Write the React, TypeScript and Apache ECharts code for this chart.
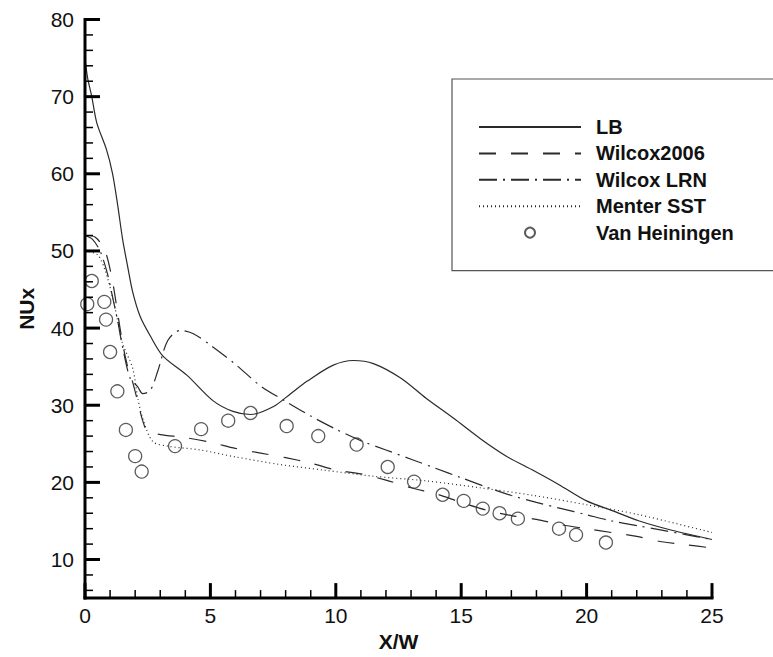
import React, { useEffect, useRef } from "react";
import * as echarts from "echarts";

const lbX = [0, 0.1, 0.27, 0.47, 0.86, 1.1, 1.3, 1.5, 1.7, 1.9, 2.2, 2.6, 3.1, 4.06, 5.1, 5.9, 6.6, 7.5, 8.2, 8.85, 9.9, 10.7, 11.5, 12.6, 13.6, 14.7, 15.75, 16.8, 17.9, 18.9, 20, 21.05, 22.1, 23.4, 25];
const lbY = [75, 72.5, 70, 66.6, 63.1, 60, 56, 51.5, 48, 44.7, 41.5, 39, 36.4, 33.9, 30.6, 29.2, 28.8, 29.8, 31.5, 33.1, 35.2, 35.8, 35.4, 33.5, 30.9, 28.3, 25.7, 23.4, 21.5, 19.7, 17.6, 16.3, 15, 13.8, 12.6];

const w2006X = [0, 0.4, 0.8, 1.1, 1.3, 1.5, 1.7, 1.9, 2.1, 2.3, 2.5, 3, 4, 5, 6, 7, 8, 9, 10, 11, 12, 13, 14, 15, 16, 17, 18, 19, 20, 21, 22, 23, 24, 25];
const w2006Y = [52, 51.8, 50, 46, 42, 38, 35, 33, 30.5, 28, 26.6, 26.2, 25.8, 25.2, 24.4, 23.8, 23.2, 22.5, 21.6, 21.1, 20.3, 19.3, 18.5, 17.4, 16.4, 15.7, 15.2, 14.5, 14.0, 13.5, 13.0, 12.3, 11.9, 11.5];

const lrnX = [0, 0.3, 0.6, 0.9, 1.1, 1.3, 1.5, 1.8, 2.1, 2.3, 2.6, 2.9, 3.3, 3.8, 4.3, 5, 6, 7, 8, 9, 10, 11, 12, 13, 14, 15, 16, 17, 18, 19, 20, 21, 22, 23, 24, 25];
const lrnY = [52, 51.5, 50, 47, 44, 41, 37.5, 33.5, 32.4, 31.5, 31.9, 34.4, 38.4, 39.7, 39.3, 37.8, 35.3, 32.5, 30.5, 28.6, 26.9, 25.4, 24.2, 23, 21.8, 20.6, 19.4, 18.3, 17.4, 16.6, 15.8, 15.0, 14.4, 13.8, 13.2, 12.6];

const sstX = [0, 0.5, 0.8, 1.1, 1.3, 1.5, 1.9, 2.1, 2.3, 2.7, 3.3, 4.6, 6, 7.8, 9.5, 11.5, 13.6, 15.75, 17.9, 20, 22.1, 25];
const sstY = [50, 49.5, 47.5, 44, 41, 38, 34.8, 31, 28.3, 25.3, 24.7, 24.2, 23.3, 22.3, 21.6, 20.8, 20.2, 19.3, 18.3, 17.1, 15.8, 13.5];

const expX = [0.09, 0.27, 0.77, 0.84, 1.0, 1.29, 1.63, 2.0, 2.26, 3.59, 4.63, 5.71, 6.6, 8.04, 9.3, 10.83, 12.07, 13.12, 14.26, 15.1, 15.86, 16.53, 17.26, 18.9, 19.58, 20.77];
const expY = [43.1, 46.1, 43.4, 41.1, 36.9, 31.8, 26.8, 23.4, 21.4, 24.7, 26.9, 28.0, 29.0, 27.3, 26.0, 24.9, 22.0, 20.1, 18.4, 17.6, 16.6, 16.0, 15.3, 14.0, 13.2, 12.2];

const seriesNames = ["LB", "Wilcox2006", "Wilcox LRN", "Menter SST", "Van Heiningen"];
const xMajorTicks = [0, 5, 10, 15, 20, 25];
const xMinorTicks = [1, 2, 3, 4, 6, 7, 8, 9, 11, 12, 13, 14, 16, 17, 18, 19, 21, 22, 23, 24];
const yMajorTicks = [10, 20, 30, 40, 50, 60, 70, 80];
const yMinorTicks = [6, 8, 12, 14, 16, 18, 22, 24, 26, 28, 32, 34, 36, 38, 42, 44, 46, 48, 52, 54, 56, 58, 62, 64, 66, 68, 72, 74, 76, 78];
const X_MIN = 0, X_MAX = 25, Y_MIN = 5, Y_MAX = 80;

const zip = (xs: number[], ys: number[]) => xs.map((x, i) => [x, ys[i]]);

const FONT = "'Liberation Sans', Arial, sans-serif";
const LINE_COLOR = "#2a2a2a";
const AXIS_COLOR = "#000";

export default function App() {
  const ref = useRef<HTMLDivElement>(null);
  useEffect(() => {
    if (!ref.current) return;
    const chart = echarts.init(ref.current, undefined, { renderer: "svg" });
    const lineSeries = (name: string, data: number[][], type: any) => ({
      name,
      type: "line",
      data,
      symbol: "none",
      smooth: 0.3,
      lineStyle: { color: LINE_COLOR, width: 1.2, type },
      itemStyle: { color: LINE_COLOR },
      z: 2,
    });
    const legendData = seriesNames.map((n, i) =>
      i < 4 ? { name: n, itemStyle: { opacity: 0 } } : { name: n }
    );
    chart.setOption({
      animation: false,
      grid: { left: 85, right: 61, top: 19.5, bottom: 56 },
      legend: {
        orient: "vertical",
        left: 452,
        top: 79,
        data: legendData,
        padding: [38, 50, 28, 26],
        itemWidth: 102,
        itemHeight: 10,
        itemGap: 6.4,
        backgroundColor: "#fff",
        borderColor: "#555",
        borderWidth: 1.2,
        borderRadius: 0,
        textStyle: { fontFamily: FONT, fontWeight: "bold", fontSize: 20, color: "#111", padding: [0, 0, 0, 10] },
      },
      xAxis: {
        type: "value",
        min: X_MIN,
        max: X_MAX,
        interval: 5,
        name: "X/W",
        nameLocation: "middle",
        nameGap: 30,
        nameTextStyle: { fontFamily: FONT, fontWeight: "bold", fontSize: 21, color: "#111" },
        axisLine: { show: false },
        axisTick: { show: false },
        axisLabel: { fontFamily: FONT, fontSize: 21, color: "#111", margin: 7 },
        splitLine: { show: false },
      },
      yAxis: {
        type: "value",
        min: Y_MIN,
        max: Y_MAX,
        name: "NUx",
        nameLocation: "middle",
        nameRotate: 90,
        nameGap: 48,
        nameTextStyle: { fontFamily: FONT, fontWeight: "bold", fontSize: 21, color: "#111" },
        axisLine: { show: false },
        axisTick: { show: false },
        axisLabel: { fontFamily: FONT, fontSize: 21, color: "#111", margin: 11, customValues: yMajorTicks },
        splitLine: { show: false },
      },
      series: [
        lineSeries(seriesNames[0], zip(lbX, lbY), "solid"),
        lineSeries(seriesNames[1], zip(w2006X, w2006Y), [17, 15]),
        lineSeries(seriesNames[2], zip(lrnX, lrnY), [18, 6, 2, 6]),
        lineSeries(seriesNames[3], zip(sstX, sstY), [1, 3]),
        {
          name: seriesNames[4],
          type: "scatter",
          data: zip(expX, expY),
          symbol: "circle",
          symbolSize: 13,
          itemStyle: { color: "rgba(255,255,255,0)", borderColor: "#333", borderWidth: 1.3 },
          z: 3,
        },
      ],
    });

    // Axis frame and inward ticks, positioned through the chart's own scales
    const px = (v: number) => chart.convertToPixel({ xAxisIndex: 0 }, v) as number;
    const py = (v: number) => chart.convertToPixel({ yAxisIndex: 0 }, v) as number;
    const x0 = px(X_MIN), x1 = px(X_MAX), y0 = py(Y_MIN), y1 = py(Y_MAX);
    const fill = { fill: AXIS_COLOR };
    const els: any[] = [
      { type: "rect", z: 10, shape: { x: x0 - 1.5, y: y1 - 1.5, width: 3, height: y0 - y1 + 3 }, style: fill },
      { type: "rect", z: 10, shape: { x: x0 - 1.5, y: y0 - 1.5, width: x1 - x0 + 3, height: 3 }, style: fill },
    ];
    xMajorTicks.forEach((v) => els.push({ type: "rect", z: 10, shape: { x: px(v) - 1.5, y: y0 - 15, width: 3, height: 15 }, style: fill }));
    xMinorTicks.forEach((v) => els.push({ type: "rect", z: 10, shape: { x: px(v) - 0.75, y: y0 - 8, width: 1.5, height: 8 }, style: fill }));
    yMajorTicks.forEach((v) => els.push({ type: "rect", z: 10, shape: { x: x0, y: py(v) - 1.5, width: 15, height: 3 }, style: fill }));
    yMinorTicks.forEach((v) => els.push({ type: "rect", z: 10, shape: { x: x0, y: py(v) - 0.75, width: 8, height: 1.5 }, style: fill }));
    chart.setOption({ graphic: { elements: els } });

    return () => chart.dispose();
  }, []);
  return <div ref={ref} style={{ position: "fixed", left: 0, top: 0, width: 773, height: 657, background: "#fff" }} />;
}
